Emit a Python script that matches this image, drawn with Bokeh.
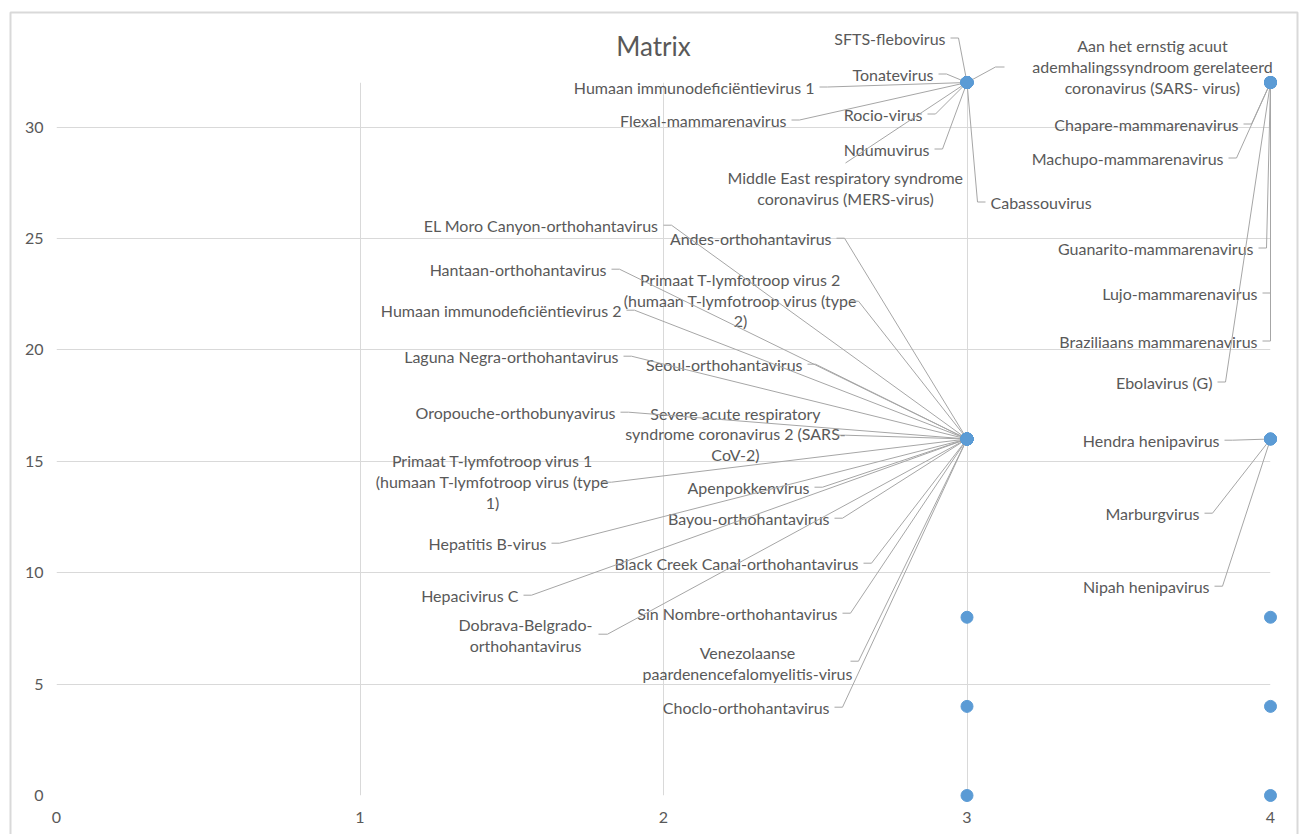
from bokeh.plotting import figure
from bokeh.models import Range1d, FixedTicker, ColumnDataSource
from bokeh.embed import file_html
from bokeh.resources import INLINE
from bokeh.core.properties import value

# ---- data -------------------------------------------------------------
virus_names = [
    "SFTS-flebovirus",
    "Tonatevirus",
    "Humaan immunodeficiëntievirus 1",
    "Flexal-mammarenavirus",
    "Rocio-virus",
    "Ndumuvirus",
    "Middle East respiratory syndrome\ncoronavirus (MERS-virus)",
    "Cabassouvirus",
    "Aan het ernstig acuut\nademhalingssyndroom gerelateerd\ncoronavirus (SARS- virus)",
    "Chapare-mammarenavirus",
    "Machupo-mammarenavirus",
    "Guanarito-mammarenavirus",
    "Lujo-mammarenavirus",
    "Braziliaans mammarenavirus",
    "Ebolavirus (G)",
    "Hendra henipavirus",
    "Marburgvirus",
    "Nipah henipavirus",
    "EL Moro Canyon-orthohantavirus",
    "Andes-orthohantavirus",
    "Hantaan-orthohantavirus",
    "Primaat T-lymfotroop virus 2\n(humaan T-lymfotroop virus (type\n2)",
    "Humaan immunodeficiëntievirus 2",
    "Laguna Negra-orthohantavirus",
    "Seoul-orthohantavirus",
    "Oropouche-orthobunyavirus",
    "Severe acute respiratory\nsyndrome coronavirus 2 (SARS-\nCoV-2)",
    "Primaat T-lymfotroop virus 1\n(humaan T-lymfotroop virus (type\n1)",
    "Apenpokkenvirus",
    "Bayou-orthohantavirus",
    "Hepatitis B-virus",
    "Black Creek Canal-orthohantavirus",
    "Hepacivirus C",
    "Sin Nombre-orthohantavirus",
    "Dobrava-Belgrado-\northohantavirus",
    "Venezolaanse\npaardenencefalomyelitis-virus",
    "Choclo-orthohantavirus",
]
virus_x = [3] * 9 + [4] * 6 + [4] * 3 + [3] * 19
virus_y = [32] * 9 + [32] * 6 + [16] * 3 + [16] * 19

# points without a label
other_x = [3, 3, 3, 4, 4, 4]
other_y = [8, 4, 0, 8, 4, 0]

x_ticks = [0, 1, 2, 3, 4]
y_ticks = [0, 5, 10, 15, 20, 25, 30]

chart_title = "Matrix"

# ---- label placement (pixel offsets from the marker, y downwards) -------
# (text dx, text dy, align, stub near dx, stub elbow dx, stub dy)
# stub values of None fall back to a short horizontal stub beside the text
label_layout = [
    (-21.5, -44.5, "right", None, None, None),
    (-33.5, -8.5, "right", None, None, None),
    (-152.5, 4.5, "right", None, None, None),
    (-180.5, 37.5, "right", None, None, None),
    (-44.5, 31.5, "right", None, None, None),
    (-37.5, 66.5, "right", None, None, None),
    (-121.5, 105.5, "center", -121.5, -121.5, 80.5),
    (23.5, 119.5, "left", None, None, None),
    (185.5, -16.0, "center", 37.5, 28.5, -15.5),
    (-32.0, 41.5, "right", None, None, None),
    (-47.0, 75.5, "right", None, None, None),
    (-17.0, 165.5, "right", None, None, None),
    (-13.0, 210.5, "right", None, None, None),
    (-13.0, 258.5, "right", None, None, None),
    (-58.0, 299.5, "right", None, None, None),
    (-51.0, 1.2, "right", None, None, None),
    (-71.0, 74.2, "right", None, None, None),
    (-61.0, 147.2, "right", None, None, None),
    (-308.5, -213.8, "right", None, None, None),
    (-135.5, -200.8, "right", None, None, None),
    (-360.5, -169.8, "right", None, None, None),
    (-226.5, -138.8, "center", -116.5, -108.5, -137.8),
    (-345.5, -128.8, "right", None, None, None),
    (-348.5, -82.8, "right", None, None, None),
    (-164.5, -74.8, "right", None, None, None),
    (-351.5, -26.8, "right", None, None, None),
    (-231.5, -5.0, "center", -130.5, -121.5, -3.8),
    (-474.5, 42.5, "center", -364.5, -355.5, 43.2),
    (-157.5, 48.2, "right", None, None, None),
    (-137.5, 79.2, "right", None, None, None),
    (-420.5, 104.2, "right", None, None, None),
    (-108.5, 124.2, "right", None, None, None),
    (-448.5, 156.2, "right", None, None, None),
    (-129.5, 174.2, "right", None, None, None),
    (-441.5, 196.2, "center", -368.5, -359.5, 195.2),
    (-219.5, 223.7, "center", -116.5, -108.5, 222.2),
    (-137.5, 268.2, "right", None, None, None),
]

# ---- figure -------------------------------------------------------------
W, H = 1301, 834
BORDER_L, BORDER_R, BORDER_T, BORDER_B = 56, 31, 82, 39
X_MIN, X_MAX, Y_MIN, Y_MAX = 0, 4, 0, 32

p = figure(
    width=W, height=H,
    x_range=Range1d(X_MIN, X_MAX), y_range=Range1d(Y_MIN, Y_MAX),
    min_border_left=BORDER_L, min_border_right=BORDER_R,
    min_border_top=BORDER_T, min_border_bottom=BORDER_B,
    output_backend="svg", toolbar_location=None,
)
p.outline_line_color = None
p.background_fill_color = "white"
p.border_fill_color = "white"

GRID = "#d9d9d9"
TEXT = "#595959"
FONT = "Lato"

p.xaxis.ticker = FixedTicker(ticks=x_ticks)
p.yaxis.ticker = FixedTicker(ticks=y_ticks)
for ax in (p.xaxis[0], p.yaxis[0]):
    ax.axis_line_color = None
    ax.major_tick_line_color = None
    ax.minor_tick_line_color = None
    ax.major_label_text_font = FONT
    ax.major_label_text_font_size = "16px"
    ax.major_label_text_color = TEXT
p.yaxis.major_label_standoff = 7
p.xaxis.major_label_standoff = 10
p.xgrid.grid_line_color = GRID
p.ygrid.grid_line_color = GRID

# pixel -> data conversion for offsets measured from the plot frame
px_x = (W - BORDER_L - BORDER_R) / (X_MAX - X_MIN)
px_y = (H - BORDER_T - BORDER_B) / (Y_MAX - Y_MIN)


def canvas_x(sx):
    return X_MIN + (sx - BORDER_L) / px_x


def canvas_y(sy):
    return Y_MAX - (sy - BORDER_T) / px_y


# chart-area border (drawn outside the frame, so kept on the overlay level)
p.quad(left=[canvas_x(10)], right=[canvas_x(1297)],
       top=[canvas_y(12)], bottom=[canvas_y(H + 20)],
       fill_color=None, line_color=GRID, line_width=2, level="overlay")

tx, ty, talign, lead_xs, lead_ys = [], [], [], [], []
for x0, y0, (dx, dy, align, near, elbow, sdy) in zip(virus_x, virus_y, label_layout):
    tx.append(x0 + dx / px_x)
    ty.append(y0 - dy / px_y)
    talign.append(align)
    if near is None:
        side = 1 if align == "right" else -1
        near = dx + side * 5
        elbow = dx + side * 13
        sdy = dy
    lead_xs.append([x0, x0 + elbow / px_x, x0 + near / px_x])
    lead_ys.append([y0, y0 - sdy / px_y, y0 - sdy / px_y])

labels = ColumnDataSource(dict(x=tx, y=ty, text=virus_names, align=talign))

p.text(
    x="x", y="y", text="text", source=labels,
    text_font=value(FONT), text_font_size="16px", text_color=TEXT,
    text_align="align", text_baseline="middle", text_line_height=1.09,
    level="overlay",
)
p.multi_line(xs=lead_xs, ys=lead_ys, line_color="#a6a6a6", line_width=1, level="overlay")

p.scatter(x=virus_x + other_x, y=virus_y + other_y, size=12,
          fill_color="#5b9bd5", line_color="#5b9bd5", level="overlay")

# chart title
p.text(x=[canvas_x(653)], y=[canvas_y(45)], text=[chart_title],
       text_font=value(FONT), text_font_size="26px", text_color=TEXT,
       text_align="center", text_baseline="middle", level="overlay")

open("out.html", "w").write(file_html(p, INLINE))
